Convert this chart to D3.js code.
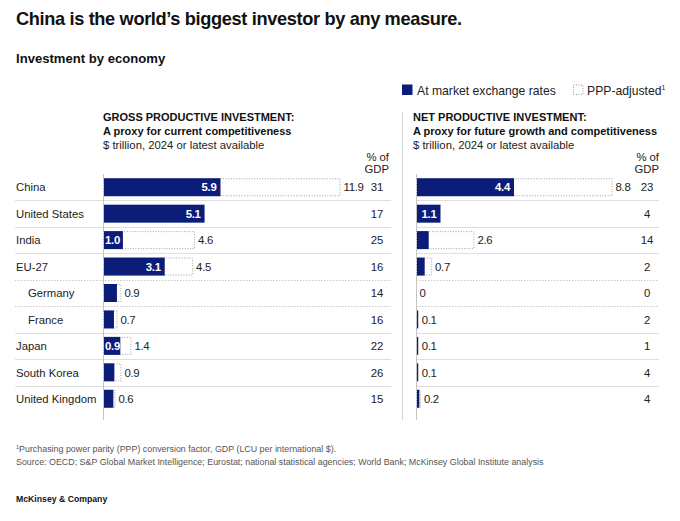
<!DOCTYPE html>
<html><head><meta charset="utf-8">
<script src="https://cdn.jsdelivr.net/npm/d3@7"></script>
<style>
body{margin:0;background:#fff;}
svg{display:block;font-family:"Liberation Sans",Arial,Helvetica,sans-serif;}
</style></head>
<body><div id="chart"></div>
<script>
// ---------- data ----------
const categories = ["China","United States","India","EU-27","Germany","France","Japan","South Korea","United Kingdom"];
const indented   = ["Germany","France"];
// Gross productive investment, $ trillion
const grossMarket = [5.9, 5.1, 1.0, 3.1, 0.7, 0.55, 0.87, 0.57, 0.52];
const grossPPP    = [11.9, null, 4.6, 4.5, 0.9, 0.7, 1.4, 0.9, 0.6];
const grossGDP    = [31, 17, 25, 16, 14, 16, 22, 26, 15];
// Net productive investment, $ trillion
const netMarket = [4.4, 1.1, 0.57, 0.39, 0, 0.1, 0.1, 0.1, 0.15];
const netPPP    = [8.8, null, 2.6, 0.7, 0, 0.1, 0.1, 0.1, 0.2];
const netGDP    = [23, 4, 14, 2, 0, 2, 1, 4, 4];
const dottedSeparators = ["Germany","France"]; // separator line above these rows is dotted

const navy = "#0b1d78";
const W = 680, H = 521;
const svg = d3.select("#chart").append("svg").attr("width", W).attr("height", H);

// ---------- titles ----------
svg.append("text").attr("x",16).attr("y",25).attr("font-size",18.2).attr("font-weight","bold")
  .attr("letter-spacing",-0.35).attr("fill","#111").text("China is the world’s biggest investor by any measure.");
svg.append("text").attr("x",16).attr("y",63).attr("font-size",13.1).attr("font-weight","bold")
  .attr("fill","#111").text("Investment by economy");

// legend
const lg = svg.append("g");
lg.append("rect").attr("x",402).attr("y",84.5).attr("width",10.5).attr("height",10.5).attr("fill",navy);
lg.append("text").attr("x",417).attr("y",95).attr("font-size",12.2).attr("fill","#222").text("At market exchange rates");
lg.append("rect").attr("x",573.5).attr("y",85).attr("width",9.5).attr("height",9.5).attr("fill","none")
  .attr("stroke","#999").attr("stroke-dasharray","1,1.5");
const lt = lg.append("text").attr("x",587).attr("y",95).attr("font-size",12.2).attr("fill","#222");
lt.append("tspan").text("PPP-adjusted");
lt.append("tspan").attr("font-size",7).attr("dy",-5).text("1");

// ---------- rows ----------
const yBand = d3.scaleBand().domain(categories).range([174, 412]).paddingInner(0.32).paddingOuter(0.16);
const step = yBand.step();
const rowTop = 174;
const fs = 11.4;

// separator vertical line between panels
svg.append("line").attr("x1",402.5).attr("x2",402.5).attr("y1",112).attr("y2",420)
  .attr("stroke","#d6d6d6").attr("stroke-width",1);

// row labels
svg.append("g").selectAll("text").data(categories).join("text")
  .attr("x", d => indented.includes(d) ? 28 : 16)
  .attr("y", d => yBand(d) + yBand.bandwidth()/2 + 4.2)
  .attr("font-size",11.3).attr("fill","#222").text(d => d);

const fmt = v => v === 0 ? "0" : d3.format(".1f")(v);

function panel(opts) {
  const {x0, x1, max, market, ppp, gdp, lineX0, lineX1, headX, gdpX, head} = opts;
  const x = d3.scaleLinear().domain([0, max]).range([x0, x1]);
  const g = svg.append("g");

  // header
  g.append("text").attr("x",headX).attr("y",121).attr("font-size",11).attr("font-weight","bold")
    .attr("fill","#111").text(head[0]);
  g.append("text").attr("x",headX).attr("y",135).attr("font-size",11).attr("font-weight","bold")
    .attr("fill","#111").text(head[1]);
  g.append("text").attr("x",headX).attr("y",148.5).attr("font-size",11.3)
    .attr("fill","#222").text("$ trillion, 2024 or latest available");
  g.append("text").attr("x",gdpX+12).attr("y",160.5).attr("font-size",11.3).attr("text-anchor","end")
    .attr("fill","#222").text("% of");
  g.append("text").attr("x",gdpX+12).attr("y",173).attr("font-size",11.3).attr("text-anchor","end")
    .attr("fill","#222").text("GDP");

  // row separators
  categories.forEach((c, i) => {
    if (i === 0) return;
    const yy = Math.round(rowTop + i*step) + 0.5;
    g.append("line").attr("x1",lineX0).attr("x2",lineX1).attr("y1",yy).attr("y2",yy)
      .attr("stroke", dottedSeparators.includes(c) ? "#c8c8c8" : "#dedede")
      .attr("stroke-dasharray", dottedSeparators.includes(c) ? "1.5,1.5" : null);
  });

  // baseline axis
  g.append("line").attr("x1",x0+0.5).attr("x2",x0+0.5).attr("y1",174).attr("y2",420)
    .attr("stroke","#c4c4c4");

  const rows = categories.map((c,i) => ({c, m: market[i], p: ppp[i], g: gdp[i]}));

  // PPP dotted bars
  g.append("g").selectAll("rect").data(rows.filter(d => d.p !== null && d.p > d.m)).join("rect")
    .attr("x", x0 + 0.5).attr("y", d => yBand(d.c) + 0.5)
    .attr("width", d => x(d.p) - x0 - 0.5).attr("height", yBand.bandwidth() - 1)
    .attr("fill","#fff").attr("stroke","#9a9a9a").attr("stroke-width",0.9)
    .attr("stroke-dasharray","1,1.6");

  // market bars
  g.append("g").selectAll("rect").data(rows).join("rect")
    .attr("x", x0 + 1).attr("y", d => yBand(d.c))
    .attr("width", d => Math.max(0, x(d.m) - x0 - 1)).attr("height", yBand.bandwidth())
    .attr("fill", navy);

  // inside labels
  const inside = d => x(d.m) - x0 >= 16;
  g.append("g").selectAll("text").data(rows.filter(inside)).join("text")
    .attr("x", d => x(d.m) - 4).attr("y", d => yBand(d.c) + yBand.bandwidth()/2 + 4.2)
    .attr("text-anchor","end").attr("font-size",fs).attr("font-weight","bold").attr("fill","#fff")
    .attr("letter-spacing",-0.3)
    .text(d => fmt(d.m))
    .each(function(d) {
      const w = this.getComputedTextLength();
      const start = x(d.m) - 4 - w;
      if (start < x0 + 2) d3.select(this).attr("x", x0 + 2 + w);
    });

  // outside labels (PPP value)
  g.append("g").selectAll("text").data(rows.filter(d => d.p !== null)).join("text")
    .attr("x", d => Math.max(x(d.p), x(d.m)) + 3.5).attr("y", d => yBand(d.c) + yBand.bandwidth()/2 + 4.2)
    .attr("font-size",fs).attr("letter-spacing",-0.3).attr("fill","#222").text(d => fmt(d.p));

  // % of GDP
  g.append("g").selectAll("text").data(rows).join("text")
    .attr("x", gdpX).attr("y", d => yBand(d.c) + yBand.bandwidth()/2 + 4.2)
    .attr("text-anchor","middle").attr("font-size",fs).attr("letter-spacing",-0.2).attr("fill","#222").text(d => d.g);
}

panel({x0:103, x1:340, max:11.9, market:grossMarket, ppp:grossPPP, gdp:grossGDP,
  lineX0:15, lineX1:391, headX:103, gdpX:377,
  head:["GROSS PRODUCTIVE INVESTMENT:","A proxy for current competitiveness"]});
panel({x0:416, x1:612, max:8.8, market:netMarket, ppp:netPPP, gdp:netGDP,
  lineX0:416, lineX1:659, headX:413, gdpX:647,
  head:["NET PRODUCTIVE INVESTMENT:","A proxy for future growth and competitiveness"]});

// ---------- footnotes ----------
const fn = svg.append("text").attr("x",16).attr("y",452).attr("font-size",8.9).attr("fill","#555");
fn.append("tspan").attr("font-size",5.5).attr("dy",-3).text("1");
fn.append("tspan").attr("dy",3).text("Purchasing power parity (PPP) conversion factor, GDP (LCU per international $).");
svg.append("text").attr("x",16).attr("y",465).attr("font-size",8.9).attr("fill","#555")
  .text("Source: OECD; S&P Global Market Intelligence; Eurostat; national statistical agencies; World Bank; McKinsey Global Institute analysis");
svg.append("text").attr("x",16).attr("y",502).attr("font-size",8.7).attr("font-weight","bold")
  .attr("fill","#111").text("McKinsey & Company");
</script></body></html>
